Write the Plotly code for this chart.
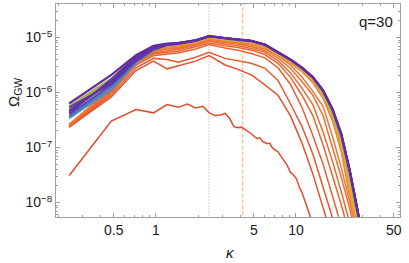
import plotly.graph_objects as go

# ---------------- data (log10 of Omega_GW) ----------------
kappa = [0.24, 0.48, 0.72, 0.96, 1.2, 1.44, 1.92, 2.4, 3.12, 3.84, 4.8, 6.0, 7.44,
         9.12, 11.04, 13.2, 15.6, 18.24, 21.12, 24.24, 27.6, 31.2]

kappa_first = [0.24, 0.48, 0.72, 0.96, 1.2, 1.44, 1.68, 1.92, 2.16, 2.4, 2.64, 2.88, 3.12,
               3.36, 3.6, 3.84, 4.08, 4.32, 4.56, 4.8, 5.04, 5.28, 5.52, 5.76, 6.0, 6.24,
               6.48, 6.72, 6.96, 7.2, 7.44, 7.68, 8.16, 8.64, 9.12, 9.6, 10.08, 10.56,
               11.04, 11.52, 12.0, 12.48, 12.96, 13.44]
log_first = [-7.51, -6.52, -6.31, -6.37, -6.22, -6.27, -6.21, -6.28, -6.25, -6.37, -6.42,
             -6.41, -6.38, -6.47, -6.62, -6.64, -6.63, -6.67, -6.72, -6.75, -6.80, -6.84,
             -6.82, -6.89, -6.91, -6.93, -6.92, -6.99, -7.03, -7.06, -7.08, -7.13, -7.22,
             -7.32, -7.45, -7.50, -7.57, -7.72, -7.82, -7.97, -8.08, -8.21, -8.33, -8.45]

log_c2 = [-6.63, -6.08, -5.60, -5.43, -5.57, -5.52, -5.43, -5.33, -5.50, -5.58, -5.68, -5.86,
          -6.05, -6.42, -6.92, -7.48, -8.05, -8.60, -9.20, -9.80, -10.4, -11.0]
log_c3 = [-6.63, -6.04, -5.55, -5.38, -5.40, -5.45, -5.36, -5.27, -5.38, -5.42, -5.47, -5.56,
          -5.78, -6.20, -6.62, -7.12, -7.68, -8.20, -8.75, -9.30, -9.90, -10.5]
log_c4 = [-6.62, -6.00, -5.50, -5.33, -5.30, -5.28, -5.21, -5.13, -5.19, -5.23, -5.29, -5.37,
          -5.55, -5.85, -6.27, -6.78, -7.30, -7.85, -8.38, -8.95, -9.50, -10.0]
log_c5 = [-6.61, -5.97, -5.47, -5.30, -5.27, -5.25, -5.17, -5.10, -5.15, -5.18, -5.23, -5.31,
          -5.47, -5.72, -6.05, -6.42, -6.95, -7.50, -8.05, -8.62, -9.20, -9.80]
log_c6 = [-6.60, -5.95, -5.45, -5.28, -5.24, -5.22, -5.14, -5.07, -5.12, -5.15, -5.20, -5.27,
          -5.42, -5.64, -5.92, -6.22, -6.72, -7.25, -7.82, -8.32, -8.90, -9.50]
log_c7 = [-6.60, -5.93, -5.43, -5.26, -5.21, -5.20, -5.12, -5.05, -5.09, -5.12, -5.17, -5.24,
          -5.37, -5.56, -5.80, -6.05, -6.42, -6.98, -7.55, -8.12, -8.75, -9.30]
log_c8 = [-6.58, -5.92, -5.42, -5.25, -5.19, -5.18, -5.10, -5.03, -5.07, -5.10, -5.14, -5.21,
          -5.33, -5.50, -5.72, -5.98, -6.25, -6.80, -7.38, -8.00, -8.62, -9.20]

log_b1 = [-6.30, -5.80, -5.42, -5.23, -5.17, -5.15, -5.10, -5.02, -5.06, -5.09, -5.11, -5.18,
          -5.33, -5.46, -5.62, -5.82, -6.10, -6.51, -7.08, -7.84, -8.62, -9.39]
log_b2 = [-6.28, -5.78, -5.40, -5.22, -5.16, -5.14, -5.09, -5.01, -5.05, -5.08, -5.10, -5.17,
          -5.32, -5.45, -5.61, -5.80, -6.08, -6.47, -7.02, -7.77, -8.54, -9.31]
log_b3 = [-6.34, -5.82, -5.41, -5.21, -5.15, -5.13, -5.08, -5.00, -5.04, -5.07, -5.09, -5.16,
          -5.31, -5.44, -5.60, -5.79, -6.06, -6.44, -6.98, -7.71, -8.47, -9.24]
log_b4 = [-6.26, -5.76, -5.38, -5.20, -5.15, -5.13, -5.08, -5.00, -5.04, -5.07, -5.09, -5.16,
          -5.30, -5.43, -5.59, -5.77, -6.04, -6.41, -6.93, -7.65, -8.41, -9.17]
log_b5 = [-6.42, -5.92, -5.44, -5.21, -5.14, -5.12, -5.07, -4.99, -5.03, -5.06, -5.08, -5.15,
          -5.30, -5.43, -5.58, -5.76, -6.02, -6.39, -6.90, -7.60, -8.35, -9.11]
log_b6 = [-6.28, -5.78, -5.36, -5.19, -5.13, -5.12, -5.07, -4.99, -5.03, -5.06, -5.08, -5.15,
          -5.29, -5.42, -5.57, -5.75, -6.01, -6.37, -6.86, -7.55, -8.30, -9.05]
log_b7 = [-6.25, -5.74, -5.35, -5.17, -5.12, -5.11, -5.06, -4.98, -5.02, -5.05, -5.07, -5.14,
          -5.28, -5.41, -5.57, -5.74, -5.99, -6.35, -6.83, -7.52, -8.26, -9.01]
log_b8 = [-6.35, -5.82, -5.39, -5.20, -5.13, -5.11, -5.06, -4.98, -5.02, -5.05, -5.07, -5.14,
          -5.28, -5.41, -5.56, -5.74, -5.99, -6.34, -6.81, -7.49, -8.23, -8.98]
log_b9 = [-6.47, -5.95, -5.46, -5.23, -5.14, -5.11, -5.06, -4.98, -5.02, -5.05, -5.07, -5.14,
          -5.28, -5.41, -5.56, -5.73, -5.98, -6.32, -6.80, -7.47, -8.20, -8.96]
log_b10 = [-6.44, -5.90, -5.42, -5.20, -5.13, -5.11, -5.05, -4.98, -5.01, -5.04, -5.06, -5.13,
           -5.27, -5.40, -5.56, -5.73, -5.97, -6.32, -6.79, -7.46, -8.19, -8.94]
log_b11 = [-6.32, -5.80, -5.37, -5.18, -5.12, -5.10, -5.05, -4.98, -5.01, -5.04, -5.06, -5.13,
           -5.27, -5.40, -5.55, -5.73, -5.97, -6.31, -6.78, -7.44, -8.18, -8.93]
log_b12 = [-6.38, -5.76, -5.34, -5.17, -5.12, -5.10, -5.05, -4.97, -5.01, -5.04, -5.06, -5.13,
           -5.27, -5.40, -5.55, -5.72, -5.96, -6.31, -6.77, -7.43, -8.16, -8.91]
log_b13 = [-6.27, -5.84, -5.40, -5.21, -5.14, -5.12, -5.06, -4.98, -5.01, -5.04, -5.06, -5.13,
           -5.27, -5.40, -5.55, -5.72, -5.96, -6.30, -6.76, -7.42, -8.15, -8.90]
log_b14 = [-6.34, -5.80, -5.37, -5.19, -5.13, -5.11, -5.06, -4.98, -5.01, -5.04, -5.06, -5.13,
           -5.27, -5.40, -5.55, -5.72, -5.96, -6.30, -6.76, -7.42, -8.15, -8.90]
log_b15 = [-6.40, -5.86, -5.43, -5.22, -5.14, -5.11, -5.06, -4.98, -5.01, -5.04, -5.06, -5.13,
           -5.27, -5.40, -5.55, -5.72, -5.96, -6.30, -6.76, -7.42, -8.15, -8.90]
log_last = [-6.20, -5.68, -5.32, -5.15, -5.11, -5.10, -5.05, -4.97, -5.01, -5.04, -5.06, -5.13,
            -5.27, -5.40, -5.55, -5.72, -5.96, -6.30, -6.76, -7.42, -8.15, -8.90]

kappa_dotted = 2.39
kappa_dashed = 4.16

x_tick_vals = [0.5, 1, 5, 10, 50]
x_tick_text = ["0.5", "1", "5", "10", "50"]
y_tick_vals = [1e-8, 1e-7, 1e-6, 1e-5]
y_tick_text = ["10<sup>−8</sup>", "10<sup>−7</sup>", "10<sup>−6</sup>", "10<sup>−5</sup>"]
x_minor = [0.2, 0.3, 0.4, 0.6, 0.7, 0.8, 0.9, 2, 3, 4, 6, 7, 8, 9, 20, 30, 40]
y_minor = [m * 10.0 ** e for e in (-9, -8, -7, -6, -5) for m in (2, 3, 4, 5, 6, 7, 8, 9)]

# ---------------- figure ----------------
fig = go.Figure()

fig.add_trace(go.Scatter(x=[kappa_dotted, kappa_dotted], y=[1e-9, 1e-4], mode="lines",
                         line=dict(color="#F5A3AE", width=1.3, dash="1px,2px"),
                         hoverinfo="skip", showlegend=False))
fig.add_trace(go.Scatter(x=[kappa_dashed, kappa_dashed], y=[1e-9, 1e-4], mode="lines",
                         line=dict(color="#FDC28E", width=1.5, dash="4px,2px"),
                         hoverinfo="skip", showlegend=False))

fig.add_trace(go.Scatter(x=kappa_first, y=[10 ** v for v in log_first], mode="lines",
                         line=dict(color="#E24A2C", width=1.5), hoverinfo="skip",
                         showlegend=False))

series = [
    (log_c2, "#E4522D", 1.5), (log_c3, "#E6592E", 1.5), (log_c4, "#E8602F", 1.5),
    (log_c5, "#E96631", 1.5), (log_c6, "#EA6C32", 1.5), (log_c7, "#EB7233", 1.5),
    (log_c8, "#EC7834", 1.5),
    (log_b1, "#ED8036", 1.8), (log_b2, "#EE8B38", 1.8), (log_b3, "#EE973A", 1.8),
    (log_b4, "#EDA23C", 1.8), (log_b5, "#E5AE40", 1.8), (log_b6, "#CDB447", 1.8),
    (log_b7, "#9FB554", 1.8), (log_b8, "#6DAA6A", 1.8), (log_b9, "#4A8FB8", 1.8),
    (log_b10, "#3F70CF", 1.8), (log_b11, "#4B4CBA", 1.8), (log_b12, "#5B36A9", 1.8),
    (log_b13, "#5E33A6", 1.8), (log_b14, "#6330A3", 1.8), (log_b15, "#5A3CB0", 1.8),
    (log_last, "#6A2A9E", 2.2),
]
for vals, col, w in series:
    fig.add_trace(go.Scatter(x=kappa, y=[10 ** v for v in vals], mode="lines",
                             line=dict(color=col, width=w), hoverinfo="skip",
                             showlegend=False))

axis_common = dict(type="log", showgrid=False, zeroline=False, showline=True,
                   linecolor="#A0A0A0", linewidth=1, mirror="allticks", ticks="inside",
                   ticklen=4, tickcolor="#A0A0A0", tickwidth=1, automargin=False,
                   tickfont=dict(family="Liberation Sans", size=14, color="#1a1a1a"))

fig.update_layout(
    width=409, height=263,
    margin=dict(l=56, r=9, t=4, b=46),
    paper_bgcolor="white", plot_bgcolor="white",
    xaxis=dict(axis_common, range=[-0.714, 1.743], tickvals=x_tick_vals,
               ticktext=x_tick_text,
               minor=dict(tickvals=x_minor, ticks="inside", ticklen=2,
                          tickcolor="#A0A0A0", showgrid=False)),
    yaxis=dict(axis_common, range=[-8.264, -4.391], tickvals=y_tick_vals,
               ticktext=y_tick_text,
               minor=dict(tickvals=y_minor, ticks="inside", ticklen=2,
                          tickcolor="#A0A0A0", showgrid=False)),
    annotations=[
        dict(text="Ω<sub>GW</sub>", xref="paper", yref="paper", x=-0.122, y=0.582,
             textangle=-90, showarrow=False, xanchor="center", yanchor="middle",
             font=dict(family="Liberation Sans", size=15, color="#1a1a1a")),
        dict(text="<i>κ</i>", xref="paper", yref="paper", x=0.506, y=-0.169,
             showarrow=False, xanchor="center", yanchor="middle",
             font=dict(family="Liberation Sans", size=15, color="#1a1a1a")),
        dict(text="q=30", xref="paper", yref="paper", x=0.985, y=0.92,
             showarrow=False, xanchor="right", yanchor="middle",
             font=dict(family="Liberation Sans", size=15, color="#1a1a1a")),
    ],
)

fig.write_html("out.html", config={"displayModeBar": False},
               post_script="document.body.style.margin='0px';")
